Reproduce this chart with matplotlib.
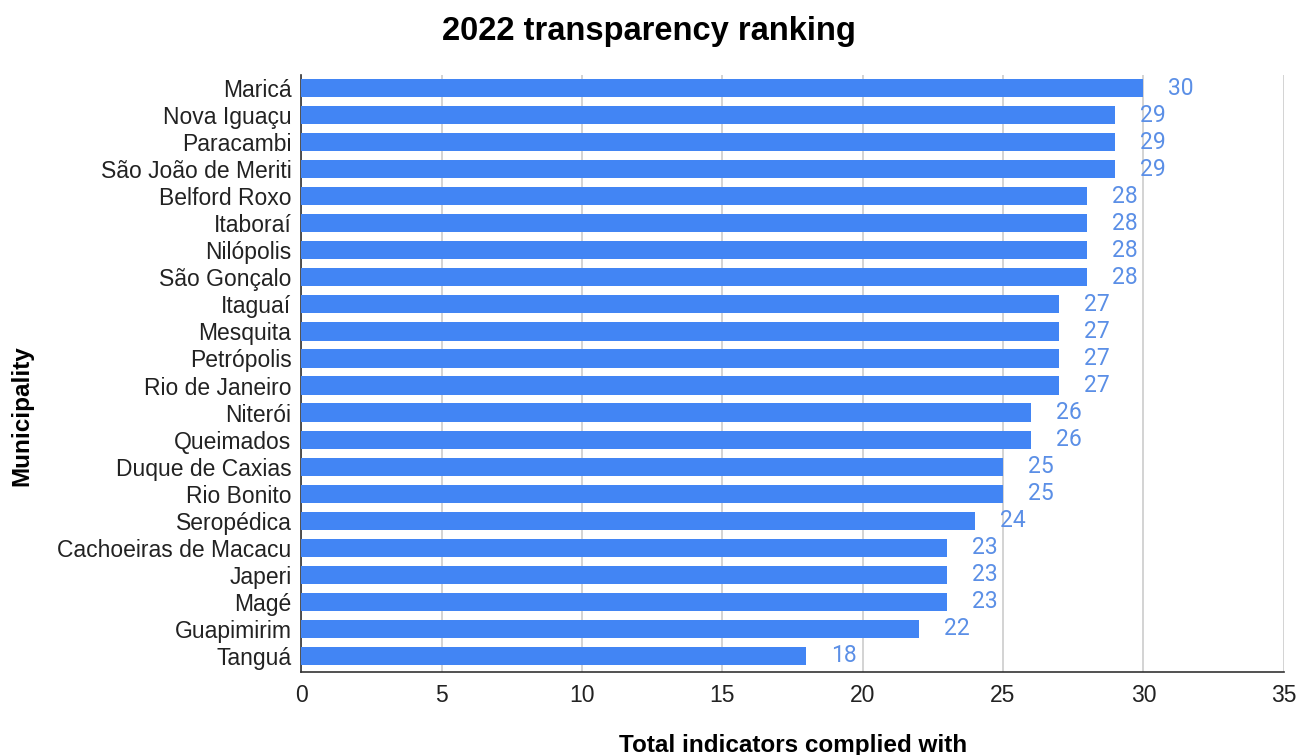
import matplotlib.pyplot as plt

# Données
municipalities = [
    "Maricá", "Nova Iguaçu", "Paracambi", "São João de Meriti", "Belford Roxo",
    "Itaboraí", "Nilópolis", "São Gonçalo", "Itaguaí", "Mesquita", "Petrópolis",
    "Rio de Janeiro", "Niterói", "Queimados", "Duque de Caxias", "Rio Bonito",
    "Seropédica", "Cachoeiras de Macacu", "Japeri", "Magé", "Guapimirim", "Tanguá",
]
indicators = [30, 29, 29, 29, 28, 28, 28, 28, 27, 27, 27, 27, 26, 26, 25, 25,
              24, 23, 23, 23, 22, 18]
x_ticks = [0, 5, 10, 15, 20, 25, 30, 35]

plt.rcParams['font.family'] = ['Liberation Sans', 'DejaVu Sans']

fig = plt.figure(figsize=(12.98, 7.55), dpi=100)
ax = fig.add_axes([0.232, 0.110, 0.757, 0.791])

y = list(range(len(municipalities)))
ax.barh(y, indicators, height=0.67, color="#4285f4", zorder=3)

for yi, v in zip(y, indicators):
    ax.annotate(str(v), xy=(v, yi), xytext=(18, 0), textcoords="offset points",
                va="center", ha="left", fontsize=16.5, color="#5b8fe6",
                family=["Roboto", "DejaVu Sans"])

ax.set_xlim(0, 35)
ax.set_ylim(21.6, -0.5)
ax.set_xticks(x_ticks)
ax.set_yticks(y)
ax.set_yticklabels(municipalities, fontsize=16.5, color="#222222")
ax.tick_params(axis="x", labelsize=16.5, colors="#222222", length=0, pad=9)
ax.tick_params(axis="y", length=0, pad=7)

ax.grid(axis="x", color="#cccccc", linewidth=1.2, zorder=0)
for s in ["top", "right"]:
    ax.spines[s].set_visible(False)
ax.spines["left"].set_color("#333333")
ax.spines["bottom"].set_color("#333333")
ax.spines["left"].set_linewidth(1.2)
ax.spines["bottom"].set_linewidth(1.2)

fig.text(0.5, 0.958, "2022 transparency ranking", ha="center", va="center",
         fontsize=23.5, fontweight="bold")
fig.text(0.611, 0.013, "Total indicators complied with", ha="center", va="center",
         fontsize=17.5, fontweight="bold")
fig.text(0.017, 0.45, "Municipality", ha="center", va="center", rotation=90,
         fontsize=17.5, fontweight="bold")

fig.savefig("out.png", dpi=100)
